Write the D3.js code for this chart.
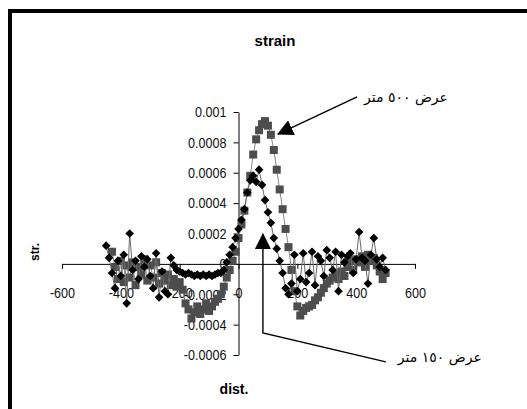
<!DOCTYPE html>
<html>
<head>
<meta charset="utf-8">
<script src="https://cdn.jsdelivr.net/npm/d3@7"></script>
<style>
  body { margin: 0; background: #fff; }
  svg { display: block; }
  .tick text { font-family: "Liberation Sans", Arial, sans-serif; font-size: 15px; fill: #111; }
</style>
</head>
<body>
<div id="container"></div>
<script>
/* DATA */
const dist = [-450,-440,-430,-420,-410,-400,-390,-380,-370,-360,-350,-340,-330,-320,-310,-300,
  -290,-280,-270,-260,-250,-240,-230,-220,-210,-200,-190,-180,-170,-160,-150,-140,-130,-120,
  -110,-100,-90,-80,-70,-60,-50,-40,-30,-20,-10,0,10,20,30,40,50,60,70,80,90,100,110,120,130,
  140,150,160,170,180,190,200,210,220,230,240,250,260,270,280,290,300,310,320,330,340,350,360,
  370,380,390,400,410,420,430,440,450,460,470,480,490,500];

// width 150 m (black diamonds)
const strain150 = [0.00012,0.00004,-0.00006,-0.00016,0.00002,-0.00008,0.00006,-0.00026,0.00020,-0.00004,
  0.00002,-0.00010,0.00005,-0.00002,0.00003,-0.00008,-0.00016,0.00007,-0.00022,-0.00005,
  -0.00018,-0.00020,0.00004,-0.00001,-0.00004,-0.00005,-0.00006,-0.00007,-0.00006,-0.00007,
  -0.00008,-0.00007,-0.00008,-0.00007,-0.00008,-0.00007,-0.00008,-0.00007,-0.00006,-0.00006,
  -0.00004,0.00001,0.00006,0.00011,0.00017,0.00023,0.00029,0.00036,0.00047,0.00055,
  0.00058,0.00054,0.00062,0.00052,0.00042,0.00034,0.00027,0.00017,0.00010,0.00002,
  -0.00006,-0.00016,-0.00020,-0.00013,0.00006,-0.00018,-0.00010,0.00007,-0.00012,-0.00006,
  0.00008,-0.00014,0.00005,0.00002,-0.00008,0.00009,0.00004,-0.00004,0.00008,-0.00018,
  0.00006,0.00001,0.00005,0.00007,-0.00006,0.00003,0.00021,0.00004,0.00002,-0.00013,
  0.00006,0.00017,0.00003,-0.00002,0.00004,-0.00004];

// width 500 m (grey squares)
const strain500 = [null,null,0.00008,-0.00002,-0.00010,0.00002,-0.00012,-0.00001,-0.00009,0.00001,
  -0.00014,-0.00002,-0.00007,0.00003,-0.00011,-0.00001,-0.00009,0.00001,-0.00013,-0.00006,
  -0.00011,-0.00007,-0.00014,-0.00010,-0.00015,-0.00012,-0.00017,-0.00026,-0.00030,-0.00036,
  -0.00032,-0.00028,-0.00033,-0.00030,-0.00026,-0.00031,-0.00028,-0.00025,-0.00023,-0.00020,
  -0.00015,-0.00009,-0.00004,0.00002,0.00008,0.00017,0.00026,0.00035,0.00047,0.00058,
  0.00072,0.00082,0.00088,0.00092,0.00094,0.00091,0.00085,0.00075,0.00062,0.00049,
  0.00036,0.00023,0.00011,-0.00004,-0.00018,-0.00028,-0.00034,-0.00031,-0.00029,-0.00028,
  -0.00027,-0.00024,-0.00022,-0.00019,-0.00016,-0.00013,-0.00011,-0.00009,-0.00007,-0.00010,
  -0.00005,-0.00008,-0.00002,0.00002,-0.00004,0.00003,0.00001,0.00005,-0.00002,0.00006,
  0.00002,0.00004,-0.00001,-0.00005,-0.00010,-0.00006];

const xTicks = [-600,-400,-200,0,200,400,600];
const yTicks = [-0.0006,-0.0004,-0.0002,0,0.0002,0.0004,0.0006,0.0008,0.001];

const label500 = "عرض ٥٠٠ متر";
const label150 = "عرض ١٥٠ متر";

/* LAYOUT */
const width = 527, height = 409;
const narrow = 0.84; // squeeze tick labels to look like a narrow face

const svg = d3.select("#container").append("svg")
  .attr("width", width)
  .attr("height", height);

// outer frame
svg.append("rect")
  .attr("x", 10).attr("y", 11)
  .attr("width", 540).attr("height", 420)
  .attr("fill", "none")
  .attr("stroke", "#000")
  .attr("stroke-width", 4);

const xScale = d3.scaleLinear().domain([-600, 600]).range([62, 415]);
const yScale = d3.scaleLinear().domain([-0.0006, 0.001]).range([355, 112]);

// x axis sits on y = 0
svg.append("g")
  .attr("transform", `translate(0,${yScale(0)})`)
  .call(d3.axisBottom(xScale).tickValues(xTicks).tickSize(5).tickSizeOuter(0).tickPadding(18)
    .tickFormat(d => String(d)))
  .call(g => g.selectAll("line, path").attr("stroke", "#000"))
  .call(g => g.selectAll("text").attr("transform", `scale(${narrow},1)`));

// y axis sits on x = 0
svg.append("g")
  .attr("transform", `translate(${xScale(0)},0)`)
  .call(d3.axisLeft(yScale).tickValues(yTicks).tickSize(5).tickSizeOuter(0).tickPadding(7)
    .tickFormat(d => String(d)))
  .call(g => g.selectAll("line, path").attr("stroke", "#000"))
  .call(g => g.selectAll("text")
    .attr("x", -12 / narrow)
    .attr("transform", `scale(${narrow},1)`));

/* SERIES */
const rows = dist.map((d, i) => ({ x: d, a: strain150[i], b: strain500[i] }));

const lineB = d3.line().defined(d => d.b != null).x(d => xScale(d.x)).y(d => yScale(d.b));
const lineA = d3.line().x(d => xScale(d.x)).y(d => yScale(d.a));

svg.append("path").datum(rows)
  .attr("d", lineB).attr("fill", "none")
  .attr("stroke", "#8a8a8a").attr("stroke-width", 1);

svg.selectAll(".sq")
  .data(rows.filter(d => d.b != null))
  .join("rect")
  .attr("class", "sq")
  .attr("x", d => xScale(d.x) - 4)
  .attr("y", d => yScale(d.b) - 4)
  .attr("width", 8).attr("height", 8)
  .attr("fill", "#4d4d4d");

svg.append("path").datum(rows)
  .attr("d", lineA).attr("fill", "none")
  .attr("stroke", "#6a6a6a").attr("stroke-width", 1);

svg.selectAll(".dia")
  .data(rows)
  .join("path")
  .attr("class", "dia")
  .attr("d", d3.symbol(d3.symbolDiamond2, 48))
  .attr("transform", d => `translate(${xScale(d.x)},${yScale(d.a)})`)
  .attr("fill", "#000");

/* TITLES */
svg.append("text")
  .attr("x", 275).attr("y", 46)
  .attr("text-anchor", "middle")
  .style("font-family", "Liberation Sans, Arial, sans-serif")
  .style("font-weight", "bold")
  .style("font-size", "15px")
  .text("strain");

svg.append("text")
  .attr("transform", "translate(39,252) rotate(-90)")
  .attr("text-anchor", "middle")
  .style("font-family", "Liberation Sans, Arial, sans-serif")
  .style("font-weight", "bold")
  .style("font-size", "12px")
  .text("str.");

svg.append("text")
  .attr("x", 234).attr("y", 394)
  .attr("text-anchor", "middle")
  .style("font-family", "Liberation Sans, Arial, sans-serif")
  .style("font-weight", "bold")
  .style("font-size", "14px")
  .text("dist.");

/* ANNOTATIONS */
svg.append("defs").append("marker")
  .attr("id", "head")
  .attr("markerUnits", "userSpaceOnUse")
  .attr("viewBox", "0 0 16 16")
  .attr("refX", 15).attr("refY", 8)
  .attr("markerWidth", 16).attr("markerHeight", 16)
  .attr("orient", "auto")
  .append("path")
  .attr("d", "M0,0 L16,8 L0,16 Z")
  .attr("fill", "#000");

// 500 m arrow
svg.append("line")
  .attr("x1", xScale(403)).attr("y1", yScale(0.0011))
  .attr("x2", xScale(134)).attr("y2", yScale(0.000855))
  .attr("stroke", "#000").attr("stroke-width", 1.4)
  .attr("marker-end", "url(#head)");

svg.append("text")
  .attr("x", xScale(712)).attr("y", yScale(0.0011) + 5)
  .attr("text-anchor", "end")
  .style("font-family", "DejaVu Sans, sans-serif")
  .style("font-size", "14px")
  .text(label500);

// 150 m arrow
svg.append("path")
  .attr("d", d3.line()([
    [xScale(501), yScale(-0.000645)],
    [xScale(83), yScale(-0.000454)],
    [xScale(83), yScale(0.000197)]
  ]))
  .attr("fill", "none")
  .attr("stroke", "#000").attr("stroke-width", 1.4)
  .attr("marker-end", "url(#head)");

svg.append("text")
  .attr("x", xScale(827)).attr("y", yScale(-0.000613) + 5)
  .attr("text-anchor", "end")
  .style("font-family", "DejaVu Sans, sans-serif")
  .style("font-size", "14px")
  .text(label150);
</script>
</body>
</html>
